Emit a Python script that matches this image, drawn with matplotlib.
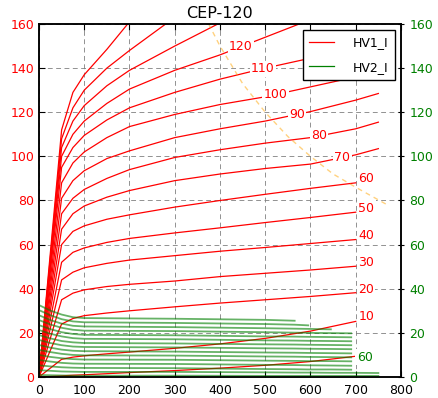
import numpy as np
import matplotlib
matplotlib.use('Agg')
import matplotlib.pyplot as plt
from matplotlib.lines import Line2D

plt.rcParams['font.family'] = ['DejaVu Sans']
plt.rcParams['lines.scale_dashes'] = False

nan = np.nan

# HV1_I: 阳极电流曲线 (红色)
v_red = [0, 50, 75, 100, 150, 200, 300, 400, 500, 600, 700, 750]
hv1_labels = [150, 140, 130, 120, 110, 100, 90, 80, 70, 60, 50, 40, 30, 20, 10, 0]
hv1_current = [
    [0, 112, 129, 137, 148.5, 161, nan, nan, nan, nan, nan, nan],
    [0, 108, 122, 130, 140, 148, 163, nan, nan, nan, nan, nan],
    [0, 104, 116, 123, 132, 139, 150, 160.5, nan, nan, nan, nan],
    [0, 100, 110, 116, 124, 130.5, 139, 146, 154, 162, nan, nan],
    [0, 95, 104, 109.5, 116.5, 122, 129, 135, 140, 144.5, 149, nan],
    [0, 88, 97, 102, 108.5, 113.5, 119, 123.5, 127, 131.5, 136, nan],
    [0, 81, 89, 93.5, 99, 102.5, 108.5, 112.5, 116, 120.3, 125.5, 128.5],
    [0, 74, 81, 85, 90, 94, 99.5, 103, 106, 108.5, 112.5, 115.5],
    [0, 67, 74, 77.5, 81.5, 84.5, 89, 92, 94.5, 96.5, 100.7, 103.5],
    [0, 60, 66, 68.5, 71.5, 73.5, 77, 80, 82.8, 85.5, 88, nan],
    [0, 52, 56.5, 58.5, 61, 62.8, 65.3, 67.6, 70, 72.3, 74.7, nan],
    [0, 44, 47.5, 49.5, 51.5, 53, 55, 57, 58.7, 60.5, 62.3, nan],
    [0, 35, 38, 39.5, 41, 42, 43.5, 45.5, 47, 48.5, 50.2, nan],
    [0, 24, 26.5, 27.8, 29, 30, 31.8, 33.5, 35, 36.5, 38.2, nan],
    [0, 8, 9, 9.6, 10.5, 11.3, 13, 15, 17.5, 20.8, 25.2, nan],
    [0, 0.5, 0.8, 1.0, 1.5, 2.0, 2.9, 4.0, 5.3, 7.0, 9.4, nan],
]
# 标签所在的横坐标 (None 表示不显示)
hv1_label_x = [None, None, None, 446, 495, 522, 570, 619, 670, 723, 723, 723, 723, 723, 723, None]

# HV2_I: 帘栅电流曲线 (绿色)
v_green = [0, 25, 50, 75, 100, 300, 500, 565, 595, 645, 690, 750]
hv2_current = [
    [32.6, 30.1, 28.3, 27.1, 26.7, 26.4, 25.9, 25.5, nan, nan, nan, nan],
    [30.3, 28.0, 26.2, 25.2, 24.8, 24.5, 24.0, 23.7, 23.4, nan, nan, nan],
    [28.0, 25.8, 24.2, 23.2, 22.9, 22.6, 22.1, 21.9, 21.8, 21.6, nan, nan],
    [25.8, 23.8, 22.3, 21.4, 21.0, 20.8, 20.3, 20.1, 20.0, 19.9, 19.8, nan],
    [23.5, 21.7, 20.3, 19.5, 19.1, 18.9, 18.4, 18.3, 18.2, 18.1, 18.0, nan],
    [21.3, 19.6, 18.4, 17.6, 17.3, 17.1, 16.6, 16.5, 16.4, 16.3, 16.2, nan],
    [19.0, 17.5, 16.3, 15.7, 15.4, 15.2, 14.8, 14.7, 14.6, 14.5, 14.4, nan],
    [16.8, 15.4, 14.4, 13.8, 13.6, 13.4, 13.0, 12.9, 12.8, 12.7, 12.6, nan],
    [14.5, 13.3, 12.4, 11.9, 11.7, 11.5, 11.1, 11.0, 10.9, 10.8, 10.7, nan],
    [12.3, 11.3, 10.5, 10.0, 9.8, 9.7, 9.3, 9.2, 9.1, 9.0, 8.9, nan],
    [10.0, 9.1, 8.5, 8.1, 7.9, 7.8, 7.4, 7.3, 7.2, 7.2, 7.1, nan],
    [7.7, 7.0, 6.4, 6.1, 6.0, 5.9, 5.5, 5.4, 5.3, 5.2, 5.1, nan],
    [5.3, 4.8, 4.4, 4.2, 4.1, 4.0, 3.6, 3.5, 3.4, 3.4, 3.3, nan],
    [3.1, 2.8, 2.5, 2.4, 2.3, 2.3, 2.1, 2.0, 2.0, 1.9, 1.9, 1.8],
    [0.9, 0.8, 0.7, 0.6, 0.6, 0.6, 0.5, 0.5, 0.5, 0.5, 0.5, 0.5],
]
hv2_label_text = '60'
hv2_label_idx = 9
hv2_label_x = 720

# 60W 功耗曲线
v_pmax = [375, 400, 450, 500, 550, 600, 650, 700, 770]
i_pmax = [160, 150, 133, 120, 109, 100, 92, 86, 78]

fig = plt.figure(figsize=(4.39, 3.98), dpi=100)
ax1 = fig.add_axes([0.0888, 0.0528, 0.8246, 0.8869])
ax2 = ax1.twinx()

lbl_box = dict(facecolor='white', edgecolor='none', pad=1.0)

for cur, lx, lab in zip(hv1_current, hv1_label_x, hv1_labels):
    cur = np.array(cur, dtype=float)
    ax1.plot(v_red, cur, color='red', lw=0.9)
    if lx is not None:
        ok = ~np.isnan(cur)
        vv = np.array(v_red)[ok]
        cc = cur[ok]
        if lx <= vv[-1]:
            ly = np.interp(lx, vv, cc)
        else:
            ly = cc[-1] + (cc[-1] - cc[-2]) / (vv[-1] - vv[-2]) * (lx - vv[-1]) + 1.2
        ax1.text(lx, ly, str(lab), color='red', fontsize=9, ha='center', va='center',
                 bbox=lbl_box, zorder=5)

ax1.plot(v_pmax, i_pmax, color='orange', alpha=0.5, lw=1.0, ls=(0, (3.5, 3)))

for cur in hv2_current:
    ax2.plot(v_green, cur, color='green', alpha=0.6, lw=1.3)
g = np.array(hv2_current[hv2_label_idx], dtype=float)
ax2.text(hv2_label_x, np.nanmin(g), hv2_label_text, color='green', fontsize=9,
         ha='center', va='center', bbox=lbl_box, zorder=5)

for ax in (ax1, ax2):
    ax.set_xlim(0, 800)
    ax.set_ylim(0, 160)
    ax.set_yticks(np.arange(0, 161, 20))
    for s in ax.spines.values():
        s.set_linewidth(1.1)
ax1.set_xticks(np.arange(0, 801, 100))
ax1.grid(True, color='gray', ls=(0, (3.5, 2.5)), lw=0.6)
ax1.tick_params(direction='in', length=4, labelsize=9, top=True)
ax1.tick_params(axis='x', pad=5)
ax1.tick_params(axis='y', labelcolor='red')
ax2.tick_params(direction='inout', length=5, labelsize=9, labelcolor='green')

ax1.set_title('CEP-120', fontsize=11.5, pad=4)

handles = [Line2D([], [], color='red', lw=0.9), Line2D([], [], color='green', lw=0.9)]
leg = ax2.legend(handles, ['HV1_I', 'HV2_I'], loc='upper right', fontsize=9,
                 fancybox=False, framealpha=1, edgecolor='black', handlelength=2.0,
                 handletextpad=1.5, labelspacing=0.9, borderpad=0.5)
leg.get_frame().set_linewidth(1.0)

fig.savefig('out.png', dpi=100)
